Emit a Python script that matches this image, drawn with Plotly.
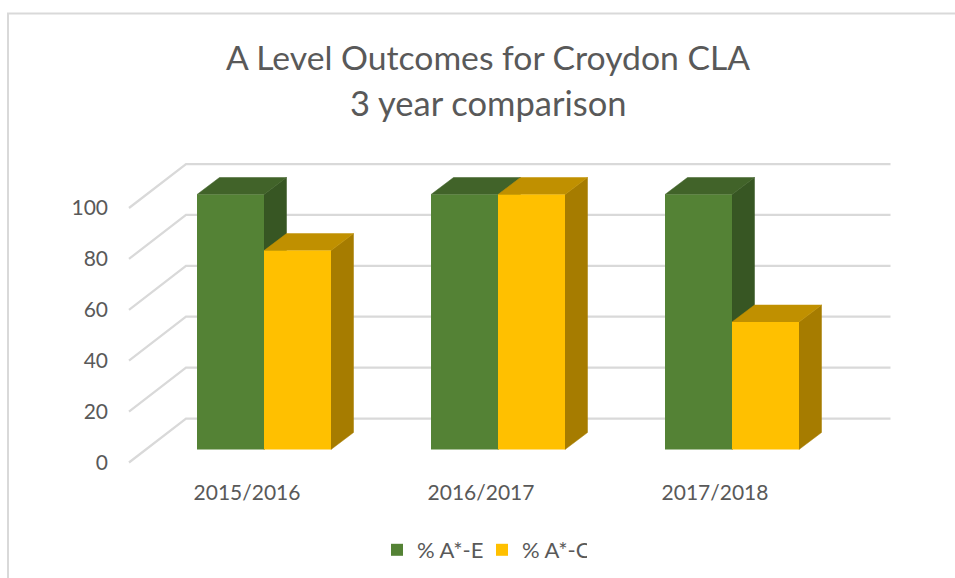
import plotly.graph_objects as go

# ---- data ----
categories = ["2015/2016", "2016/2017", "2017/2018"]
series_e_name = "% A*-E"
series_c_name = "% A*-C"
series_e = [100, 100, 100]
series_c = [78, 100, 50]
y_ticks = [0, 20, 40, 60, 80, 100]

# ---- style ----
FONT = "Lato"
TEXT = "#595959"
GRID = "#d9d9d9"
GREEN, GREEN_TOP, GREEN_SIDE = "#548235", "#416329", "#375623"
GOLD, GOLD_TOP, GOLD_SIDE = "#FFC000", "#C09000", "#A67C00"

W, H = 955, 578
L, R, T, B = 115, 900, 140, 480          # plot area in page pixels
PX_CAT = 234.0                           # pixels per category
PX_UNIT = 2.55                           # pixels per value unit
BAR_PX = 67.0


def xrange_for(zero):
    return [(L - zero) / PX_CAT, (R - zero) / PX_CAT]


def yrange_for(zero, unit=PX_UNIT):
    return [(zero - B) / unit, (zero - T) / unit]


idx = list(range(len(categories)))
bar_w = BAR_PX / PX_CAT
depth_x = 22.5 / PX_CAT
depth_y = 17.0 / PX_UNIT
wall_y = 44.0 / 2.545

fig = go.Figure()

# front-floor diagonals and back-wall gridlines (on the axis-label plane)
for v in y_ticks:
    fig.add_trace(go.Scatter(
        x=[(129 - 247) / PX_CAT, (186 - 247) / PX_CAT, (890.5 - 247) / PX_CAT],
        y=[v, v + wall_y, v + wall_y],
        mode="lines", line=dict(color=GRID, width=2.25),
        hoverinfo="skip", showlegend=False, xaxis="x", yaxis="y", cliponaxis=False,
    ))


def face(xs, ys, color):
    fig.add_trace(go.Scatter(
        x=xs, y=ys, mode="lines", fill="toself", fillcolor=color,
        line=dict(color=color, width=0.5), hoverinfo="skip",
        showlegend=False, xaxis="x2", yaxis="y2",
    ))


# top and side faces, drawn from the values
for i in idx:
    for vals, start, top_c, side_c in (
        (series_e, -bar_w, GREEN_TOP, GREEN_SIDE),
        (series_c, 0.0, GOLD_TOP, GOLD_SIDE),
    ):
        v = vals[i]
        x0, x1 = i + start, i + start + bar_w
        face([x1, x1 + depth_x, x1 + depth_x, x1, x1],
             [0, depth_y, v + depth_y, v, 0], side_c)
        face([x0, x0 + depth_x, x1 + depth_x, x1, x0],
             [v, v + depth_y, v + depth_y, v, v], top_c)

# front faces
fig.add_trace(go.Bar(x=idx, y=series_e, name=series_e_name, marker=dict(color=GREEN, line=dict(width=0)),
                     xaxis="x3", yaxis="y3"))
fig.add_trace(go.Bar(x=idx, y=series_c, name=series_c_name, marker=dict(color=GOLD, line=dict(width=0)),
                     xaxis="x3", yaxis="y3"))


def px(x):
    return (x - L) / (R - L)


def py(y):
    return (B - y) / (B - T)


hidden = dict(visible=False, showgrid=False, zeroline=False)

fig.update_layout(
    width=W, height=H,
    margin=dict(l=L, r=W - R, t=T, b=H - B, autoexpand=False),
    paper_bgcolor="white", plot_bgcolor="rgba(0,0,0,0)",
    font=dict(family=FONT, color=TEXT, size=21),
    barmode="group", bargap=1 - 2 * bar_w, bargroupgap=0,
    title=dict(text="A Level Outcomes for Croydon CLA", x=488 / W, xanchor="center",
               y=1 - 58 / H, yanchor="middle", font=dict(family=FONT, size=33.7, color=TEXT)),
    annotations=[dict(text="3 year comparison", xref="paper", yref="paper",
                      x=px(488), y=py(103), xanchor="center", yanchor="middle",
                      showarrow=False, font=dict(family=FONT, size=34.5, color=TEXT))],
    xaxis=dict(range=xrange_for(247), tickmode="array", tickvals=idx, ticktext=categories,
               showgrid=False, zeroline=False, showline=False, ticks="", ticklabelstandoff=-2,
               tickfont=dict(size=21, color=TEXT)),
    yaxis=dict(range=yrange_for(462.5, 2.545), tickmode="array", tickvals=y_ticks,
               showgrid=False, zeroline=False, showline=False, ticks="", ticklabelstandoff=6,
               tickfont=dict(size=21, color=TEXT)),
    xaxis2=dict(range=xrange_for(264), overlaying="x", anchor="y2", **hidden),
    yaxis2=dict(range=yrange_for(449.5), overlaying="y", anchor="x2", **hidden),
    xaxis3=dict(range=xrange_for(264), overlaying="x", anchor="y3", **hidden),
    yaxis3=dict(range=yrange_for(449.5), overlaying="y", anchor="x3", **hidden),
    legend=dict(orientation="h", x=px(482), xanchor="center", y=py(550), yanchor="middle",
                entrywidth=60, entrywidthmode="pixels",
                font=dict(size=22, color=TEXT), bgcolor="rgba(0,0,0,0)", itemclick=False, traceorder="normal"),
    shapes=[
        dict(type="line", xref="paper", yref="paper", x0=px(8), x1=px(8), y0=py(13.5), y1=py(578),
             line=dict(color=GRID, width=2)),
        dict(type="line", xref="paper", yref="paper", x0=px(7), x1=px(955), y0=py(13.5), y1=py(13.5),
             line=dict(color=GRID, width=2)),
    ],
)

fig.write_html("out.html", config={"displayModeBar": False},
               post_script="document.body.style.margin='0';")
